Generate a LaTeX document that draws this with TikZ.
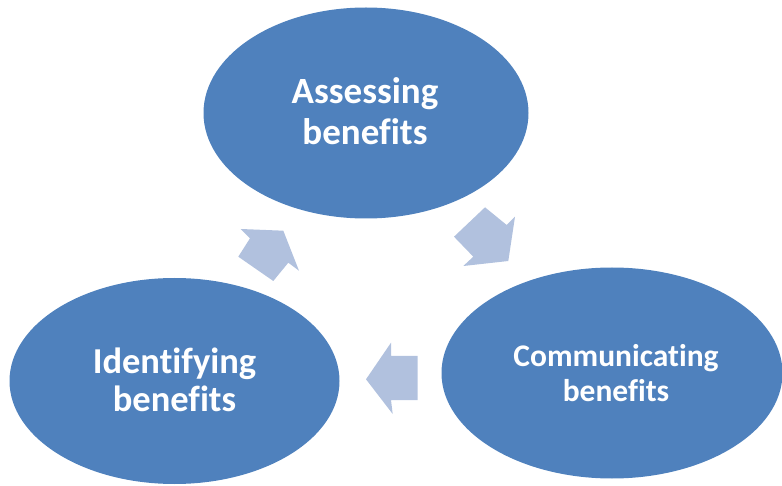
\documentclass[tikz,border=0pt]{standalone}
\usepackage{fontspec}
\setmainfont[Ligatures=NoCommon]{Carlito}
\usetikzlibrary{shapes.geometric}
\definecolor{ellblue}{HTML}{4F81BD}
\definecolor{arrblue}{HTML}{B1C1DE}
\begin{document}
\begin{tikzpicture}[x=1pt,y=-1pt,
  ell/.style={ellipse,fill=ellblue,draw=none,inner sep=0pt},
  lbl/.style={text=white,font=\bfseries,anchor=base,inner sep=0pt},
  blockarrow/.style={fill=arrblue,draw=none}]
\useasboundingbox (0,0) rectangle (782,486);
\clip (0,0) rectangle (782,486);
% ellipses
\node[ell,minimum width=325pt,minimum height=211pt] (assess) at (366,113) {};
\node[ell,minimum width=341pt,minimum height=211pt] (comm) at (612,373) {};
\node[ell,minimum width=330pt,minimum height=206pt] (ident) at (174.5,381) {};
% labels
\node[lbl,font=\bfseries\fontsize{37}{44}\selectfont] (assess1) at (365,103.3) {Assessing};
\node[lbl,font=\bfseries\fontsize{37}{44}\selectfont] (assess2) at (365,145) {benefits};
\node[lbl,font=\bfseries\fontsize{31.5}{38}\selectfont] (comm1) at (616,366.7) {Communicating};
\node[lbl,font=\bfseries\fontsize{31.5}{38}\selectfont] (comm2) at (616,401.7) {benefits};
\node[lbl,font=\bfseries\fontsize{36.5}{44}\selectfont] (ident1) at (174.5,373.3) {Identifying};
\node[lbl,font=\bfseries\fontsize{36.5}{44}\selectfont] (ident2) at (174.5,411.7) {benefits};
% block arrows
\fill[blockarrow] (454,236.7) -- (485,207.3) -- (506.7,225) -- (515,216.7) -- (508.3,261) -- (463.3,266) -- (473.3,256.7) -- cycle;
\fill[blockarrow] (417.7,356) -- (391,356) -- (391,342.7) -- (366,379.3) -- (392.7,414) -- (391,400) -- (417.7,400) -- cycle;
\fill[blockarrow] (273.3,281) -- (288.3,262.7) -- (299,270.7) -- (283.3,230.7) -- (240.7,229) -- (250,238.3) -- (238.3,256.7) -- cycle;
\end{tikzpicture}
\end{document}
